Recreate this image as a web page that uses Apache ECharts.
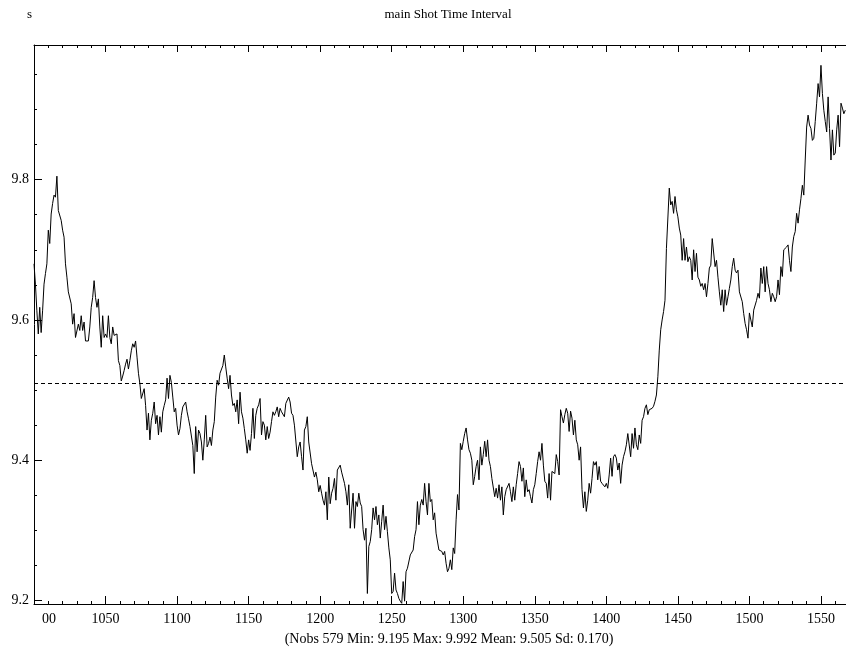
<!DOCTYPE html>
<html>
<head>
<meta charset="utf-8">
<title>main Shot Time Interval</title>
<script src="https://cdn.jsdelivr.net/npm/echarts@6/dist/echarts.min.js"></script>
<style>
  html, body { margin: 0; padding: 0; background: #fff; }
  #chart { width: 846px; height: 654px; }
</style>
</head>
<body>
<div id="chart"></div>
<script>
// observation numbers start here, one value per observation
const firstObs = 1000
const shotInterval = [
  9.680, 9.651, 9.613, 9.580, 9.618, 9.582, 9.613, 9.651, 9.666, 9.680,
  9.728, 9.709, 9.751, 9.766, 9.778, 9.775, 9.805, 9.756, 9.756, 9.742,
  9.728, 9.718, 9.680, 9.661, 9.640, 9.642, 9.623, 9.594, 9.609, 9.575,
  9.573, 9.594, 9.585, 9.606, 9.585, 9.597, 9.570, 9.568, 9.570, 9.590,
  9.618, 9.632, 9.656, 9.632, 9.618, 9.630, 9.590, 9.561, 9.606, 9.575,
  9.580, 9.575, 9.606, 9.575, 9.566, 9.590, 9.578, 9.580, 9.580, 9.542,
  9.535, 9.513, 9.520, 9.528, 9.537, 9.544, 9.530, 9.542, 9.556, 9.566,
  9.561, 9.570, 9.547,
  9.524, 9.509, 9.488, 9.486, 9.502, 9.478, 9.443, 9.467, 9.429, 9.457,
  9.467, 9.483, 9.452, 9.464, 9.436, 9.462, 9.440, 9.469, 9.478, 9.486,
  9.517, 9.488, 9.521, 9.511, 9.490, 9.469, 9.474, 9.450, 9.436, 9.445,
  9.464, 9.476, 9.478, 9.483, 9.469, 9.459, 9.448, 9.450, 9.421, 9.381,
  9.448, 9.412, 9.443, 9.438, 9.426, 9.400, 9.429, 9.464, 9.419, 9.424,
  9.433, 9.421, 9.443, 9.455, 9.490, 9.514, 9.507, 9.524, 9.526, 9.535,
  9.550, 9.533, 9.517, 9.502, 9.521, 9.493, 9.478, 9.481, 9.469, 9.486,
  9.452,
  9.497, 9.469, 9.460, 9.445, 9.429, 9.410, 9.429, 9.414, 9.438, 9.474,
  9.431, 9.464, 9.474, 9.479, 9.488, 9.436, 9.455, 9.450, 9.429, 9.448,
  9.431, 9.440, 9.455, 9.469, 9.464, 9.469, 9.476, 9.462, 9.474, 9.469,
  9.467, 9.462, 9.481, 9.481, 9.490, 9.483, 9.467, 9.464, 9.450, 9.448,
  9.405, 9.419, 9.426, 9.405, 9.386, 9.443, 9.448, 9.462, 9.426, 9.426,
  9.395, 9.393, 9.376, 9.383, 9.372, 9.355, 9.364, 9.353, 9.343, 9.336,
  9.355, 9.315, 9.376, 9.338, 9.353, 9.360, 9.374, 9.343, 9.386, 9.386,
  9.393, 9.383,
  9.381, 9.367, 9.355, 9.336, 9.365, 9.303, 9.329, 9.353, 9.303, 9.341,
  9.334, 9.353, 9.339, 9.334, 9.301, 9.286, 9.303, 9.210, 9.277, 9.284,
  9.301, 9.332, 9.315, 9.334, 9.308, 9.322, 9.289, 9.313, 9.336, 9.301,
  9.320, 9.298, 9.275, 9.258, 9.210, 9.213, 9.239, 9.215, 9.210, 9.203,
  9.199, 9.196, 9.227, 9.199, 9.241, 9.246, 9.246, 9.265, 9.267, 9.272,
  9.291, 9.301, 9.341, 9.308, 9.336, 9.344, 9.336, 9.367, 9.341, 9.322,
  9.367, 9.341, 9.344, 9.315, 9.325, 9.296, 9.294, 9.272, 9.270, 9.270,
  9.265,
  9.270, 9.253, 9.241, 9.246, 9.258, 9.244, 9.275, 9.267, 9.315, 9.351,
  9.329, 9.424, 9.415, 9.427, 9.438, 9.446, 9.429, 9.415, 9.410, 9.400,
  9.365, 9.377, 9.391, 9.400, 9.372, 9.419, 9.393, 9.408, 9.427, 9.405,
  9.429, 9.400, 9.391, 9.374, 9.372, 9.348, 9.360, 9.346, 9.365, 9.343,
  9.362, 9.322, 9.348, 9.358, 9.360, 9.367, 9.355, 9.341, 9.362, 9.343,
  9.365, 9.381, 9.398, 9.391, 9.370, 9.389, 9.348, 9.372, 9.355, 9.358,
  9.348, 9.339, 9.358, 9.365, 9.381, 9.398, 9.412, 9.400, 9.424, 9.393,
  9.370,
  9.367, 9.346, 9.381, 9.343, 9.384, 9.386, 9.381, 9.408, 9.398, 9.379,
  9.472, 9.462, 9.453, 9.465, 9.474, 9.467, 9.441, 9.470, 9.460, 9.436,
  9.457, 9.429, 9.422, 9.400, 9.419, 9.358, 9.332, 9.355, 9.327, 9.343,
  9.367, 9.353, 9.374, 9.398, 9.393, 9.398, 9.372, 9.391, 9.370, 9.367,
  9.365, 9.362, 9.367, 9.360, 9.379, 9.403, 9.377, 9.405, 9.408, 9.403,
  9.386, 9.396, 9.367, 9.393, 9.405, 9.412, 9.422, 9.438, 9.436, 9.405,
  9.438, 9.417, 9.446, 9.422, 9.415, 9.436, 9.424, 9.457, 9.462, 9.474,
  9.479,
  9.465, 9.472, 9.474, 9.474, 9.477, 9.484, 9.493, 9.519, 9.557, 9.586,
  9.600, 9.612, 9.628, 9.702, 9.700, 9.788, 9.764, 9.769, 9.752, 9.776,
  9.757, 9.747, 9.731, 9.721, 9.685, 9.716, 9.685, 9.704, 9.683, 9.690,
  9.685, 9.657, 9.700, 9.669, 9.695, 9.661, 9.657, 9.648, 9.652, 9.643,
  9.652, 9.633, 9.652, 9.674, 9.678, 9.716, 9.716, 9.676, 9.685, 9.661,
  9.640, 9.621, 9.643, 9.612, 9.643, 9.621, 9.633, 9.645, 9.657, 9.676,
  9.688, 9.671, 9.667, 9.671, 9.640, 9.640, 9.626, 9.609, 9.595, 9.586,
  9.574, 9.610,
  9.612, 9.590, 9.614, 9.614, 9.628, 9.638, 9.631, 9.674, 9.652, 9.676,
  9.640, 9.676, 9.652, 9.643, 9.626, 9.638, 9.633, 9.626, 9.633, 9.657,
  9.636, 9.676, 9.662, 9.700, 9.700, 9.704, 9.707, 9.685, 9.669, 9.704,
  9.719, 9.726, 9.752, 9.738, 9.757, 9.773, 9.792, 9.778, 9.828, 9.875,
  9.892, 9.878, 9.873, 9.856, 9.859, 9.883, 9.909, 9.937, 9.918, 9.963,
  9.923, 9.899, 9.883, 9.868, 9.918, 9.873, 9.828, 9.871, 9.835, 9.838,
  9.871, 9.892, 9.847, 9.909, 9.902, 9.894, 9.899
]
const meanValue = 9.505
const xMajorTicks = [1000, 1050, 1100, 1150, 1200, 1250, 1300, 1350, 1400, 1450, 1500, 1550]
const yMajorTicks = [9.2, 9.4, 9.6, 9.8]
const yMinorTicks = [9.25, 9.3, 9.35, 9.45, 9.5, 9.55, 9.65, 9.7, 9.75, 9.85, 9.9, 9.95]
const titleText = 'main Shot Time Interval'
const unitText = 's'
const footerText = '(Nobs 579 Min: 9.195 Max: 9.992 Mean: 9.505 Sd: 0.170)'

const xMinorTicks = []
for (let v = 1010; v < 1570; v += 10) {
  if (v % 50 !== 0) xMinorTicks.push(v)
}

const seriesData = shotInterval.map((v, i) => [firstObs + i, v])

const font = 'Liberation Serif'
const xMin = 1000
const xMax = 1567.5
const yMin = 9.195
const yMax = 9.992

function xAxisOf (position, ticks, len, withLine, withLabel) {
  return {
    type: 'value',
    position: position,
    min: xMin,
    max: xMax,
    axisLine: { show: withLine, onZero: false, lineStyle: { color: '#000', width: 1 } },
    axisTick: { show: true, inside: true, length: len, customValues: ticks, lineStyle: { color: '#000', width: 1 } },
    axisLabel: {
      show: withLabel,
      customValues: ticks,
      color: '#000',
      fontFamily: font,
      fontSize: 14,
      margin: 8,
      // the first label is cut by the frame in the original, only "00" shows
      formatter: v => (v === 1000 ? '{cut|00}' : String(v)),
      rich: { cut: { padding: [0, 0, 0, 30], color: '#000', fontFamily: font, fontSize: 14 } }
    },
    splitLine: { show: false }
  }
}

function yAxisOf (ticks, len, withLine, withLabel) {
  return {
    type: 'value',
    position: 'left',
    min: yMin,
    max: yMax,
    axisLine: { show: withLine, onZero: false, lineStyle: { color: '#000', width: 1 } },
    axisTick: { show: true, inside: true, length: len, customValues: ticks, lineStyle: { color: '#000', width: 1 } },
    axisLabel: {
      show: withLabel,
      customValues: ticks,
      color: '#000',
      fontFamily: font,
      fontSize: 14,
      margin: 5,
      formatter: v => v.toFixed(1)
    },
    splitLine: { show: false }
  }
}

const chart = echarts.init(document.getElementById('chart'), null, { renderer: 'canvas' })

chart.setOption({
  backgroundColor: '#fff',
  animation: false,
  textStyle: { fontFamily: font },
  grid: { left: 34, right: 0, top: 45, bottom: 50, containLabel: false },
  graphic: [
    { type: 'text', left: 27, top: 8, style: { text: unitText, fill: '#000', font: '13px "Liberation Serif"' } },
    { type: 'text', x: 448, y: 15, style: { text: titleText, fill: '#000', font: '13px "Liberation Serif"', align: 'center', verticalAlign: 'middle' } },
    { type: 'text', x: 449, y: 639, style: { text: footerText, fill: '#000', font: '14px "Liberation Serif"', align: 'center', verticalAlign: 'middle' } }
  ],
  xAxis: [
    xAxisOf('bottom', xMajorTicks, 8, true, true),
    xAxisOf('bottom', xMinorTicks, 3, false, false),
    xAxisOf('top', xMajorTicks, 7, true, false),
    xAxisOf('top', xMinorTicks, 3, false, false)
  ],
  yAxis: [
    yAxisOf(yMajorTicks, 8, true, true),
    yAxisOf(yMinorTicks, 3, false, false)
  ],
  series: [
    {
      type: 'line',
      xAxisIndex: 0,
      yAxisIndex: 0,
      data: seriesData,
      showSymbol: false,
      symbol: 'none',
      lineStyle: { color: '#000', width: 1 },
      markLine: {
        silent: true,
        symbol: 'none',
        label: { show: false },
        lineStyle: { color: '#000', width: 1, type: [4, 3] },
        data: [{ yAxis: meanValue }]
      }
    }
  ]
})

window.addEventListener('resize', () => chart.resize())
</script>
</body>
</html>
